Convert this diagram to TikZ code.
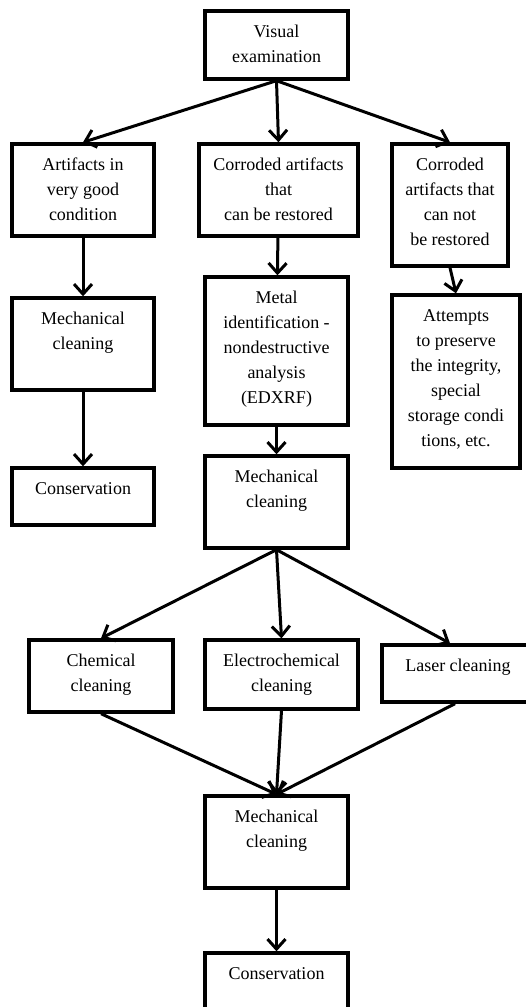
\documentclass[tikz,border=0pt]{standalone}
\usepackage{fontspec}
\setmainfont{Liberation Serif}
\usepackage{tikz}
\usetikzlibrary{arrows}
\usetikzlibrary{arrows.meta}

\newcommand{\boxtxt}[3]{\parbox[c][#2][t]{#1}{\centering\rule{0pt}{26pt}#3}}

\begin{document}
\begin{tikzpicture}[x=1pt, y=-1pt,
    stage/.style={draw, line width=3.4pt, inner sep=0pt, fill=white,
      font=\fontsize{18}{25}\selectfont},
    flow/.style={line width=3pt, -{Straight Barb[length=10pt, width=18pt]}}]
    \useasboundingbox (0,0) rectangle (526,1007);
    \clip (0,0) rectangle (526,1007);
    \node[stage] (visual) at (276.5,45) {\boxtxt{143pt}{68pt}{Visual\\examination}};
    \node[stage] (good) at (83,190) {\boxtxt{142pt}{92pt}{Artifacts in\\very good\\condition}};
    \node[stage] (restorable) at (278.5,190) {\boxtxt{159pt}{92pt}{Corroded artifacts\\that\\can be restored}};
    \node[stage] (lost) at (450,205) {\boxtxt{116pt}{122pt}{Corroded\\artifacts that\\can not\\be restored}};
    \node[stage] (mechL) at (83,344) {\boxtxt{142pt}{92pt}{Mechanical\\cleaning}};
    \node[stage] (consL) at (83,496.5) {\boxtxt{142pt}{57pt}{Conservation}};
    \node[stage] (metal) at (276.5,351) {\boxtxt{143pt}{148pt}{Metal\\identification -\\nondestructive\\analysis\\(EDXRF)}};
    \node[stage] (attempts) at (456,381.5) {\boxtxt{128pt}{173pt}{Attempts\\to preserve\\the integrity,\\special\\storage condi\\tions, etc.}};
    \node[stage] (mechM) at (276.5,502) {\boxtxt{143pt}{92pt}{Mechanical\\cleaning}};
    \node[stage] (chem) at (101,676) {\boxtxt{144pt}{72pt}{Chemical\\cleaning}};
    \node[stage] (electro) at (281.5,674.5) {\boxtxt{153pt}{69pt}{Electrochemical\\cleaning}};
    \node[stage] (laser) at (458,673.5) {\boxtxt{152pt}{57pt}{Laser cleaning}};
    \node[stage] (mechB) at (276.5,842) {\boxtxt{143pt}{92pt}{Mechanical\\cleaning}};
    \node[stage] (consB) at (276.5,985) {\boxtxt{143pt}{64pt}{Conservation}};
    \draw[flow] (visual.south) -- (good.north);
    \draw[flow] (visual.south) -- (restorable.north);
    \draw[flow] (visual.south) -- (lost.north);
    \draw[flow] (good) -- (mechL);
    \draw[flow] (mechL) -- (consL);
    \draw[flow] (restorable) -- (metal);
    \draw[flow] (metal) -- (mechM);
    \draw[flow] (lost.south) -- (attempts.north);
    \draw[flow] (mechM.south) -- (chem.north);
    \draw[flow] (mechM.south) -- (electro.north);
    \draw[flow] (mechM.south) -- ([xshift=-8pt]laser.north);
    \draw[flow] (chem.south) -- (mechB.north);
    \draw[flow] (electro.south) -- (mechB.north);
    \draw[flow] ([xshift=-3pt]laser.south) -- (mechB.north);
    \draw[flow] (mechB) -- (consB);
\end{tikzpicture}
\end{document}
